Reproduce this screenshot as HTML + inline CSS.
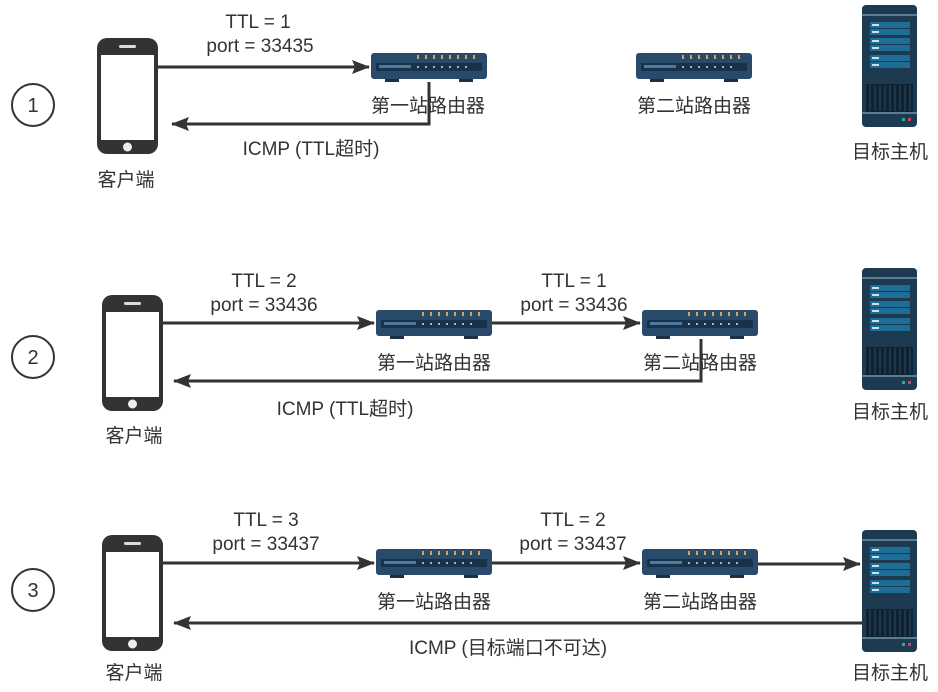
<!DOCTYPE html>
<html><head><meta charset="utf-8"><style>
html,body{margin:0;padding:0;background:#fff;}
svg{display:block;}
text{font-family:"Liberation Sans","Noto Sans CJK SC",sans-serif;fill:#333;font-size:19px;}
</style></head><body>
<svg width="938" height="692" viewBox="0 0 938 692" xmlns="http://www.w3.org/2000/svg">
<defs>
<g id="phone">
<rect x="0" y="0" width="61" height="116" rx="10" fill="#333"/>
<rect x="4" y="17" width="53" height="85" fill="#fff"/>
<rect x="22" y="7" width="17" height="3" rx="1.5" fill="#ddd"/>
<circle cx="30.5" cy="109" r="4.5" fill="#eee"/>
</g>
<g id="router">
<rect x="0" y="0" width="116" height="26" rx="3" fill="#2a4a6b"/>
<rect x="5" y="10" width="106" height="8" fill="#18324a"/>
<rect x="8" y="12" width="32" height="3" fill="#4d7aa0"/>
<g fill="#e0a25a"><rect x="46" y="2" width="2" height="4"/><rect x="54" y="2" width="2" height="4"/><rect x="62" y="2" width="2" height="4"/><rect x="70" y="2" width="2" height="4"/><rect x="78" y="2" width="2" height="4"/><rect x="86" y="2" width="2" height="4"/><rect x="94" y="2" width="2" height="4"/><rect x="102" y="2" width="2" height="4"/></g>
<g fill="#9bb"><rect x="46" y="13" width="2" height="2"/><rect x="54" y="13" width="2" height="2"/><rect x="62" y="13" width="2" height="2"/><rect x="70" y="13" width="2" height="2"/><rect x="78" y="13" width="2" height="2"/><rect x="86" y="13" width="2" height="2"/><rect x="94" y="13" width="2" height="2"/></g>
<rect x="14" y="26" width="14" height="3" fill="#1c2f44"/>
<rect x="88" y="26" width="14" height="3" fill="#1c2f44"/>
</g>
<g id="server">
<rect x="0" y="0" width="55" height="122" rx="4" fill="#1e3a50"/>
<rect x="0" y="9" width="55" height="2" fill="#5a7d96"/>
<g fill="#1c6e98"><rect x="8" y="17" width="40" height="6"/><rect x="8" y="24" width="40" height="6"/><rect x="8" y="33" width="40" height="6"/><rect x="8" y="40" width="40" height="6"/><rect x="8" y="50" width="40" height="6"/><rect x="8" y="57" width="40" height="6"/></g>
<g fill="#cde"><rect x="10" y="19" width="7" height="2"/><rect x="10" y="26" width="7" height="2"/><rect x="10" y="35" width="7" height="2"/><rect x="10" y="42" width="7" height="2"/><rect x="10" y="52" width="7" height="2"/><rect x="10" y="59" width="7" height="2"/></g>
<rect x="4" y="79" width="47" height="28" fill="#0f2232"/>
<g stroke="#2b4a60" stroke-width="1"><line x1="8" y1="80" x2="8" y2="106"/><line x1="13" y1="80" x2="13" y2="106"/><line x1="18" y1="80" x2="18" y2="106"/><line x1="23" y1="80" x2="23" y2="106"/><line x1="28" y1="80" x2="28" y2="106"/><line x1="33" y1="80" x2="33" y2="106"/><line x1="38" y1="80" x2="38" y2="106"/><line x1="43" y1="80" x2="43" y2="106"/><line x1="48" y1="80" x2="48" y2="106"/></g>
<rect x="0" y="107" width="55" height="2" fill="#5a7d96"/>
<rect x="40" y="113" width="3" height="3" fill="#3a9"/>
<rect x="46" y="113" width="3" height="3" fill="#c46"/>
</g>
<marker id="ah" markerWidth="18" markerHeight="14" refX="17" refY="7" orient="auto" markerUnits="userSpaceOnUse"><path d="M0,0 L18,7 L0,14 L3,7 z" fill="#333"/></marker>
</defs>
<g stroke="#333" stroke-width="2" fill="none">
<circle cx="33" cy="105" r="21"/><circle cx="33" cy="357" r="21"/><circle cx="33" cy="590" r="21"/>
</g>
<g><text x="33" y="112" text-anchor="middle" style="font-size:20px">1</text><text x="33" y="364" text-anchor="middle" style="font-size:20px">2</text><text x="33" y="597" text-anchor="middle" style="font-size:20px">3</text></g>

<!-- Row 1 -->
<use href="#phone" x="97" y="38"/>
<use href="#router" x="371" y="53"/>
<use href="#router" x="636" y="53"/>
<use href="#server" x="862" y="5"/>
<g stroke="#333" stroke-width="3" fill="none">
<line x1="157" y1="67" x2="369" y2="67" marker-end="url(#ah)"/>
<polyline points="429,82 429,124 172,124" marker-end="url(#ah)"/>
</g>
<text x="258" y="28" text-anchor="middle">TTL = 1</text>
<text x="260" y="52" text-anchor="middle">port = 33435</text>
<text x="311" y="155" text-anchor="middle">ICMP (TTL超时)</text>
<text x="126" y="186" text-anchor="middle">客户端</text>
<text x="428" y="112" text-anchor="middle">第一站路由器</text>
<text x="694" y="112" text-anchor="middle">第二站路由器</text>
<text x="890" y="158" text-anchor="middle">目标主机</text>

<!-- Row 2 -->
<use href="#phone" x="102" y="295"/>
<use href="#router" x="376" y="310"/>
<use href="#router" x="642" y="310"/>
<use href="#server" x="862" y="268"/>
<g stroke="#333" stroke-width="3" fill="none">
<line x1="163" y1="323" x2="374" y2="323" marker-end="url(#ah)"/>
<line x1="492" y1="323" x2="640" y2="323" marker-end="url(#ah)"/>
<polyline points="701,339 701,381 174,381" marker-end="url(#ah)"/>
</g>
<text x="264" y="287" text-anchor="middle">TTL = 2</text>
<text x="264" y="311" text-anchor="middle">port = 33436</text>
<text x="574" y="287" text-anchor="middle">TTL = 1</text>
<text x="574" y="311" text-anchor="middle">port = 33436</text>
<text x="345" y="415" text-anchor="middle">ICMP (TTL超时)</text>
<text x="134" y="442" text-anchor="middle">客户端</text>
<text x="434" y="369" text-anchor="middle">第一站路由器</text>
<text x="700" y="369" text-anchor="middle">第二站路由器</text>
<text x="890" y="418" text-anchor="middle">目标主机</text>

<!-- Row 3 -->
<use href="#phone" x="102" y="535"/>
<use href="#router" x="376" y="549"/>
<use href="#router" x="642" y="549"/>
<use href="#server" x="862" y="530"/>
<g stroke="#333" stroke-width="3" fill="none">
<line x1="163" y1="563" x2="374" y2="563" marker-end="url(#ah)"/>
<line x1="492" y1="563" x2="640" y2="563" marker-end="url(#ah)"/>
<line x1="758" y1="564" x2="860" y2="564" marker-end="url(#ah)"/>
<line x1="862" y1="623" x2="174" y2="623" marker-end="url(#ah)"/>
</g>
<text x="266" y="526" text-anchor="middle">TTL = 3</text>
<text x="266" y="550" text-anchor="middle">port = 33437</text>
<text x="573" y="526" text-anchor="middle">TTL = 2</text>
<text x="573" y="550" text-anchor="middle">port = 33437</text>
<text x="508" y="654" text-anchor="middle">ICMP (目标端口不可达)</text>
<text x="134" y="679" text-anchor="middle">客户端</text>
<text x="434" y="608" text-anchor="middle">第一站路由器</text>
<text x="700" y="608" text-anchor="middle">第二站路由器</text>
<text x="890" y="679" text-anchor="middle">目标主机</text>
</svg>
</body></html>
